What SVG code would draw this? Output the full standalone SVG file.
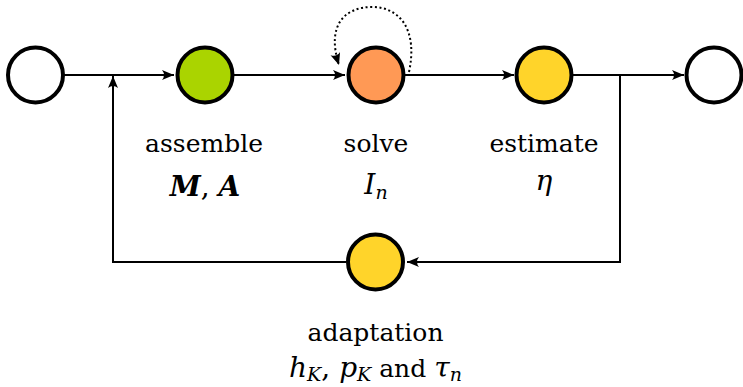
<svg xmlns="http://www.w3.org/2000/svg" width="743" height="387" viewBox="0 0 743 387">
  <defs>
    <marker id="arr" viewBox="-12 -6 13 12" refX="0" refY="0" markerWidth="13" markerHeight="12" markerUnits="userSpaceOnUse" orient="auto">
      <path d="M0,0 L-12,-5 Q-8,0 -12,5 Z" fill="#000"/>
    </marker>
  </defs>
  <style>
    .node { stroke: #000; stroke-width: 4; }
    .edge { fill: none; stroke: #000; stroke-width: 2; }
    .dot { fill: none; stroke: #000; stroke-width: 2; stroke-dasharray: 2 2.6; }
    .lbl { font-family: 'DejaVu Serif', serif; font-size: 25px; fill: #000; text-anchor: middle; }
    .math { font-size: 28px; }
    .it { font-style: italic; }
    .bi { font-style: italic; font-weight: bold; }
    .sub { font-size: 19px; font-style: italic; }
  </style>
  <g id="connectors">
    <path class="edge" d="M64,75 H174" marker-end="url(#arr)"/>
    <path class="edge" d="M234,75 H345" marker-end="url(#arr)"/>
    <path class="edge" d="M405,75 H514" marker-end="url(#arr)"/>
    <path class="edge" d="M573,75 H684" marker-end="url(#arr)"/>
    <path class="edge" d="M620,75 V262 H407" marker-end="url(#arr)"/>
    <path class="edge" d="M346,262 H113 V76" marker-end="url(#arr)"/>
    <path class="dot" d="M409,72 C418,30 400,7 372,7 C345,7 326,25 339,65" marker-end="url(#arr)"/>
  </g>
  <g id="start"><circle class="node" cx="35.5" cy="75" r="27.5" fill="#fff"/></g>
  <g id="assemble">
    <circle class="node" cx="205" cy="75" r="27.5" fill="#aad400"/>
    <text class="lbl" x="204" y="152">assemble</text>
    <text class="lbl math" x="205" y="196"><tspan class="bi">M</tspan>, <tspan class="bi">A</tspan></text>
  </g>
  <g id="solve">
    <circle class="node" cx="376" cy="75" r="27.5" fill="#ff9955"/>
    <text class="lbl" x="376" y="152">solve</text>
    <text class="lbl math" x="376" y="194"><tspan class="it">I</tspan><tspan class="sub" dy="5">n</tspan></text>
  </g>
  <g id="estimate">
    <circle class="node" cx="544" cy="75" r="27.5" fill="#ffd42a"/>
    <text class="lbl" x="544" y="152">estimate</text>
    <text class="lbl math it" x="544" y="190">η</text>
  </g>
  <g id="end"><circle class="node" cx="714" cy="75" r="27.5" fill="#fff"/></g>
  <g id="adaptation">
    <circle class="node" cx="375.5" cy="262" r="27.5" fill="#ffd42a"/>
    <text class="lbl" x="375.5" y="341">adaptation</text>
    <text class="lbl math" x="375.5" y="377"><tspan class="it">h</tspan><tspan class="sub" dy="4">K</tspan><tspan dy="-4">, </tspan><tspan class="it">p</tspan><tspan class="sub" dy="4">K</tspan><tspan dy="-4" font-size="25px"> and </tspan><tspan class="it">τ</tspan><tspan class="sub" dy="4">n</tspan></text>
  </g>
</svg>
